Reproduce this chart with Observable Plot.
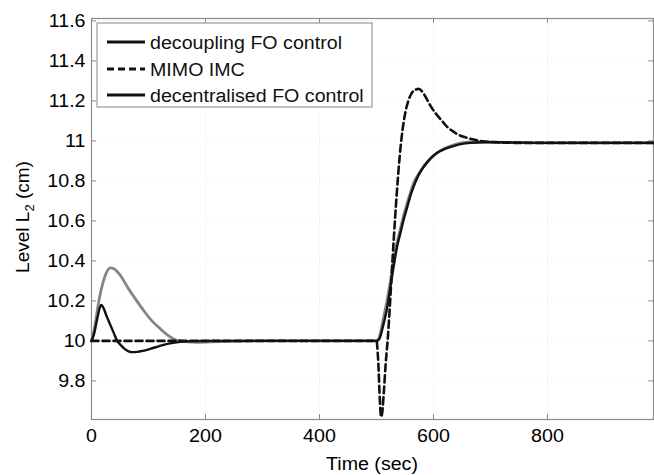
<!DOCTYPE html>
<html><head><meta charset="utf-8">
<script src="https://cdn.jsdelivr.net/npm/d3@7"></script>
<script src="https://cdn.jsdelivr.net/npm/@observablehq/plot@0.6"></script>
<style>body{margin:0;background:#fff}</style>
</head><body><div id="chart"></div>
<script>
// ---- data ----
const seriesNames = ["decoupling FO control", "MIMO IMC", "decentralised FO control"];
const xTicks = [0, 200, 400, 600, 800];
const yTicks = [9.8, 10, 10.2, 10.4, 10.6, 10.8, 11, 11.2, 11.4, 11.6];

const decouplingT = [0, 4, 10, 15, 17, 20, 27, 33, 39, 45, 51, 58, 65, 72, 80, 90, 103, 118, 133, 156, 180, 220, 300, 400, 500, 505, 512, 519, 525, 530, 536, 542, 548, 554, 560, 565, 574, 583, 594, 606, 620, 636, 650, 665, 690, 720, 800, 900, 986];
const decouplingV = [10, 10.03, 10.11, 10.17, 10.18, 10.17, 10.12, 10.08, 10.04, 10.0, 9.98, 9.96, 9.948, 9.944, 9.945, 9.95, 9.96, 9.973, 9.985, 9.995, 9.999, 10, 10, 10, 10, 10.01, 10.08, 10.17, 10.28, 10.37, 10.47, 10.54, 10.61, 10.67, 10.73, 10.77, 10.83, 10.87, 10.91, 10.94, 10.96, 10.975, 10.985, 10.99, 10.993, 10.993, 10.99, 10.99, 10.99];

const imcT = [0, 100, 200, 300, 400, 500, 503, 506, 508, 510, 513, 516, 520, 524, 528, 533, 538, 543, 548, 552, 557, 565, 574, 582, 589, 597, 606, 615, 624, 633, 641, 650, 659, 676, 700, 750, 850, 986];
const imcV = [10, 10, 10, 10, 10, 10, 9.9, 9.7, 9.62, 9.64, 9.75, 9.88, 10.02, 10.2, 10.4, 10.63, 10.83, 10.99, 11.1, 11.16, 11.21, 11.25, 11.26, 11.24, 11.205, 11.165, 11.13, 11.1, 11.07, 11.05, 11.035, 11.023, 11.015, 11.003, 10.995, 10.99, 10.99, 10.99];

const decentralT = [0, 5, 10, 15, 20, 26, 33, 40, 50, 63, 77, 92, 106, 121, 133, 144, 156, 168, 185, 210, 260, 300, 400, 500, 505, 512, 519, 525, 530, 536, 542, 548, 554, 560, 565, 574, 583, 594, 606, 620, 636, 650, 665, 690, 720, 800, 900, 986];
const decentralV = [10, 10.06, 10.15, 10.23, 10.29, 10.34, 10.365, 10.36, 10.33, 10.27, 10.21, 10.15, 10.1, 10.06, 10.03, 10.01, 10.0, 9.995, 9.993, 9.995, 9.998, 10, 10, 10, 10.02, 10.11, 10.21, 10.31, 10.4, 10.49, 10.56, 10.63, 10.69, 10.745, 10.79, 10.835, 10.875, 10.91, 10.94, 10.963, 10.98, 10.99, 10.995, 10.995, 10.993, 10.99, 10.99, 10.99];

const toRows = (T, V) => T.map((t, i) => ({t, v: V[i]}));
const decoupling = toRows(decouplingT, decouplingV);
const imc = toRows(imcT, imcV);
const decentral = toRows(decentralT, decentralV);

// ---- layout ----
const W = 654, H = 475, mL = 91, mR = 1, mT = 18, mB = 56;
const pw = W - mL - mR, ph = H - mT - mB;
const axisGray = "#8a8a8a";
const FONT = "'Liberation Sans', Arial, sans-serif";

const svg = Plot.plot({
  width: W, height: H,
  marginLeft: mL, marginRight: mR, marginTop: mT, marginBottom: mB,
  style: {fontFamily: FONT, fontSize: "18px", background: "#fff", color: "#000"},
  x: {domain: [0, 986]},
  y: {domain: [9.607, 11.612]},
  marks: [
    Plot.gridX(xTicks, {stroke: "#e2e2e2", strokeOpacity: 1, strokeDasharray: "1,3"}),
    Plot.gridY(yTicks, {stroke: "#e2e2e2", strokeOpacity: 1, strokeDasharray: "1,3"}),
    Plot.tickX(xTicks, {x: d => d, stroke: axisGray, insetTop: ph - 5}),
    Plot.tickX(xTicks, {x: d => d, stroke: axisGray, insetBottom: ph - 5}),
    Plot.tickY(yTicks, {y: d => d, stroke: axisGray, insetRight: pw - 5}),
    Plot.tickY(yTicks, {y: d => d, stroke: axisGray, insetLeft: pw - 5}),
    Plot.frame({stroke: axisGray, strokeWidth: 1.2}),
    Plot.axisX({ticks: xTicks, tickSize: 0, tickPadding: 10, label: null, tickFormat: d => String(d)}),
    Plot.axisY({ticks: yTicks, tickSize: 0, tickPadding: 6, label: null, tickFormat: d => String(+d.toFixed(1))}),
    Plot.line(decentral, {x: "t", y: "v", stroke: "#858585", strokeWidth: 2.8, curve: "monotone-x"}),
    Plot.line(decoupling, {x: "t", y: "v", stroke: "#111", strokeWidth: 2.4, curve: "monotone-x"}),
    Plot.line(imc, {x: "t", y: "v", stroke: "#111", strokeWidth: 2.6, strokeDasharray: "7,4", curve: "monotone-x"})
  ]
});

document.getElementById("chart").appendChild(svg);
const s = d3.select(svg);

// legend
const lg = s.append("g").attr("text-anchor", "start");
lg.append("rect").attr("x", 97).attr("y", 23).attr("width", 275).attr("height", 84)
  .attr("fill", "#fff").attr("stroke", "#9a9a9a").attr("stroke-width", 1.2);
const rowsY = [42, 69, 95];
const dashes = [null, "7,4", null];
seriesNames.forEach((name, i) => {
  lg.append("line").attr("x1", 107).attr("x2", 145).attr("y1", rowsY[i]).attr("y2", rowsY[i])
    .attr("stroke", "#111").attr("stroke-width", 3).attr("stroke-dasharray", dashes[i]);
  lg.append("text").attr("x", 150).attr("y", rowsY[i] + 6.5).attr("font-size", 18).attr("text-anchor", "start")
    .attr("font-family", FONT).attr("fill", "#111").text(name);
});

// x label
s.append("text").attr("x", 372).attr("y", 470).attr("text-anchor", "middle")
  .attr("font-size", 18).attr("font-family", FONT).text("Time (sec)");

// stretch horizontal texts slightly (reference glyphs are wider)
svg.querySelectorAll("text").forEach(t => {
  const len = t.getComputedTextLength();
  if (len > 0) { t.setAttribute("textLength", (len * 1.09).toFixed(1)); t.setAttribute("lengthAdjust", "spacingAndGlyphs"); }
});

// y label (rotated)
const yl = s.append("text").attr("transform", "translate(29,217) rotate(-90)").attr("text-anchor", "middle")
  .attr("font-size", 19).attr("font-family", FONT);
yl.append("tspan").text("Level L");
yl.append("tspan").attr("font-size", 13).attr("dy", 5).text("2");
yl.append("tspan").attr("dy", -5).text(" (cm)");
</script></body></html>
